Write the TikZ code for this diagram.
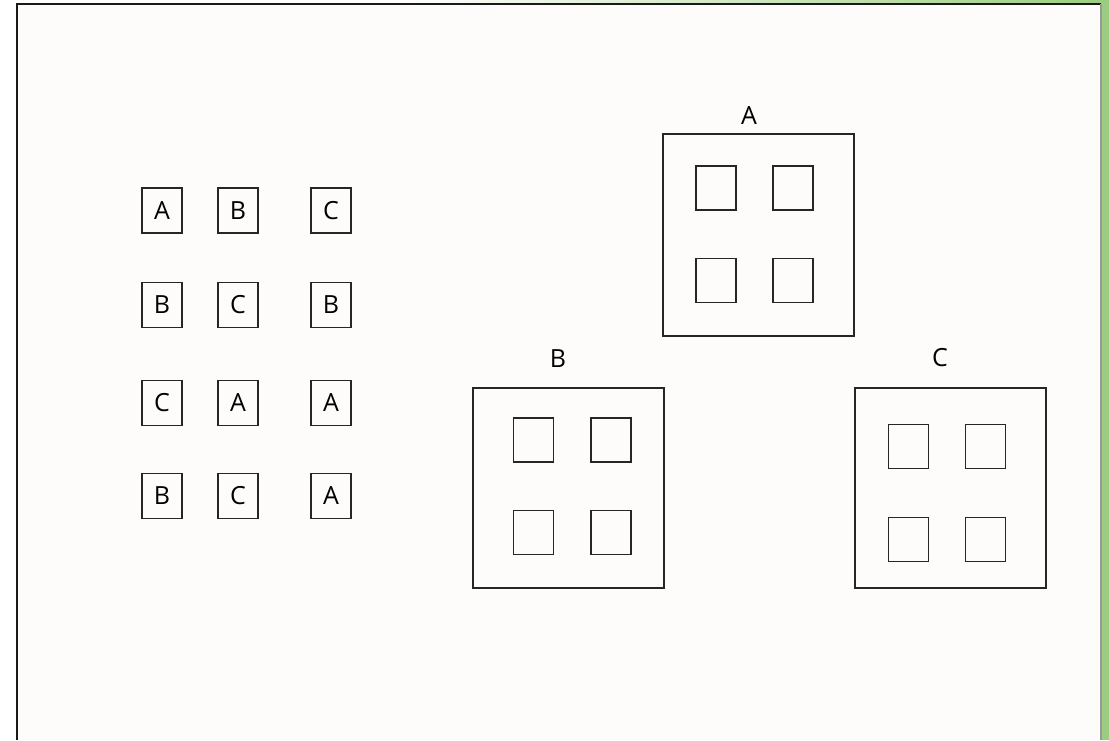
\documentclass[tikz,border=0pt]{standalone}
\usepackage{fontspec}
\setmainfont{Open Sans}
\definecolor{framegreen}{RGB}{156,204,127}
\definecolor{paper}{RGB}{253,252,250}
\begin{document}
\begin{tikzpicture}[x=1pt,y=-1pt,
  smallbox/.style={draw=black!85,line width=1.8pt,minimum width=40pt,minimum height=45pt,inner sep=0pt,font=\fontsize{25}{28}\selectfont},
  bigbox/.style={draw=black!85,line width=2pt,minimum width=191pt,minimum height=201pt,inner sep=0pt},
  cell/.style={draw=black!85,line width=1.8pt,minimum width=40pt,minimum height=44pt,inner sep=0pt},
  lbl/.style={font=\fontsize{25}{28}\selectfont,inner sep=0pt}]
\useasboundingbox (0,0) rectangle (1109,740);
% background and frame
\fill[white] (0,0) rectangle (1109,740);
\fill[paper] (17,4) rectangle (1101,740);
\shade[left color=white,right color=framegreen] (400,0) rectangle (1109,4);
\fill[framegreen] (1102,0) rectangle (1109,740);
\draw[black!90,line width=2.5pt] (17,740) -- (17,4) -- (1101,4);
\draw[black!40,line width=2.5pt] (1101,4) -- (1101,740);
% small lettered boxes
\node[smallbox] (s11) at (162,210.5) {A};
\node[smallbox] (s12) at (238,210.5) {B};
\node[smallbox] (s13) at (331,210.5) {C};
\node[smallbox] (s21) at (162,305) {B};
\node[smallbox] (s22) at (238,305) {C};
\node[smallbox] (s23) at (331,305) {B};
\node[smallbox] (s31) at (162,403) {C};
\node[smallbox] (s32) at (238,403) {A};
\node[smallbox] (s33) at (331,403) {A};
\node[smallbox] (s41) at (162,496) {B};
\node[smallbox] (s42) at (238,496) {C};
\node[smallbox] (s43) at (331,496) {A};
% big box A
\node[bigbox,minimum height=202pt] (bA) at (758,234.5) {};
\node[lbl] (lA) at (749,116) {A};
\node[cell] (a1) at (716,188) {};
\node[cell] (a2) at (793,188) {};
\node[cell] (a3) at (716,280.5) {};
\node[cell] (a4) at (793,280.5) {};
% big box B
\node[bigbox,minimum height=200pt] (bB) at (568.5,488) {};
\node[lbl] (lB) at (558,359) {B};
\node[cell] (b1) at (533.5,440) {};
\node[cell] (b2) at (611,440) {};
\node[cell] (b3) at (533.5,532.5) {};
\node[cell] (b4) at (611,532.5) {};
% big box C
\node[bigbox,minimum height=200pt] (bC) at (950.5,488) {};
\node[lbl] (lC) at (940,358) {C};
\node[cell] (c1) at (908.5,446.5) {};
\node[cell] (c2) at (985.5,446.5) {};
\node[cell] (c3) at (908.5,539.5) {};
\node[cell] (c4) at (985.5,539.5) {};
\end{tikzpicture}
\end{document}
